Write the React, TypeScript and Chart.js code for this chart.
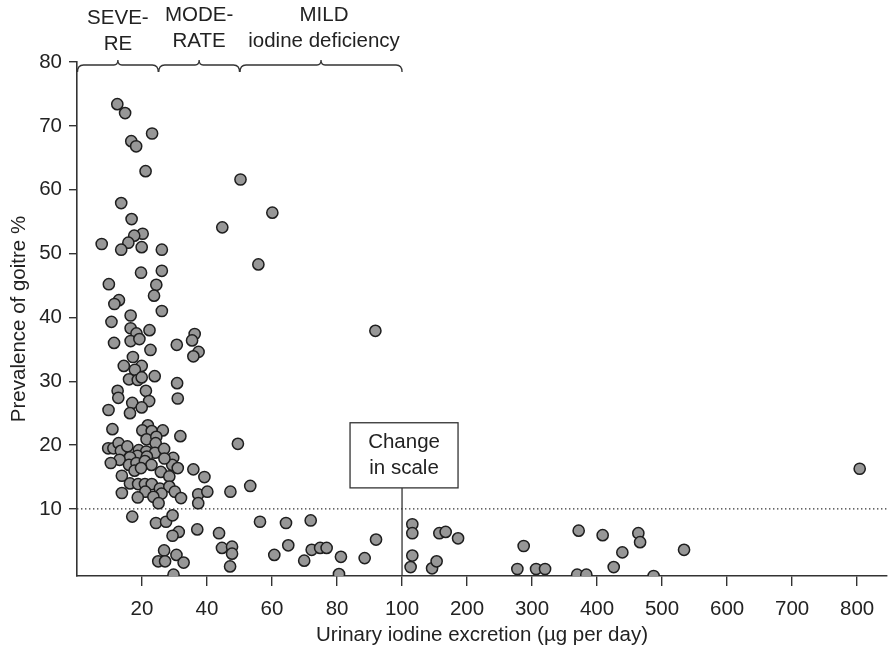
import React, { useEffect, useRef } from "react";
import { Chart, LinearScale, registerables } from "chart.js";

// ---- Data (x = urinary iodine excretion µg/day, y = goitre prevalence %) ----
const IODINE_X: number[] = [
  12.4, 14.8, 23.1, 16.7, 18.2, 21.1, 50.3, 13.6, 60.1, 44.7,
  16.8, 20.2, 17.6, 15.8, 7.6, 19.9, 13.6, 26.1, 55.8, 19.7,
  26.1, 9.8, 24.4, 23.7, 12.9, 11.5, 26.1, 16.5, 10.6, 16.5,
  18.3, 22.3, 16.5, 19.2, 11.4, 22.6, 36.2, 35.4, 30.7, 37.4,
  35.8, 17.2, 14.4, 19.9, 17.8, 23.9, 16.0, 18.7, 19.9, 30.8,
  21.2, 12.5, 31.0, 12.7, 22.2, 17.0, 19.9, 9.7, 16.3, 91.8,
  10.9, 21.8, 20.1, 23.0, 26.4, 49.5, 31.8, 21.4, 24.4, 24.2,
  9.6, 11.2, 12.8, 13.5, 15.5, 19.0, 21.3, 24.0, 26.8, 18.6,
  16.3, 13.1, 10.4, 21.5, 16.0, 18.3, 20.9, 29.6, 29.3, 26.9,
  22.9, 31.0, 17.7, 19.7, 25.8, 28.4, 35.8, 39.2, 13.8, 16.3,
  18.8, 20.9, 23.0, 25.5, 28.4, 21.0, 26.0, 30.1, 18.7, 23.5,
  32.0, 13.8, 25.1, 37.3, 37.3, 40.1, 47.2, 53.3,
  17.0, 24.3, 27.4, 29.4, 37.0, 31.3, 29.4, 43.7, 56.3, 64.3,
  71.9, 92.0, 26.8, 25.0, 27.1, 30.6, 32.8, 29.7, 44.6, 47.7,
  47.7, 47.1, 60.7, 65.0, 69.9, 72.2, 74.8, 76.8, 81.2, 80.6,
  88.5,
  115.8, 115.8, 115.8, 113.2, 146.2, 153.2, 157.4, 167.1, 186.2, 804,
  371.7, 408.6, 463.5, 466.2, 438.9, 425.6, 533.8, 287.1, 277.4, 306.2,
  320, 369.4, 383.5, 487,
];
const GOITRE_Y: number[] = [
  73.4, 72.0, 68.8, 67.6, 66.8, 62.9, 61.6, 57.9, 56.4, 54.1,
  55.4, 53.1, 52.8, 51.7, 51.5, 51.0, 50.6, 50.6, 48.3, 47.0,
  47.3, 45.2, 45.1, 43.4, 42.7, 42.1, 41.0, 40.3, 39.3, 38.3,
  37.5, 38.0, 36.3, 36.6, 36.0, 34.9, 37.4, 36.4, 35.7, 34.6,
  33.9, 33.8, 32.4, 32.4, 31.8, 30.8, 30.3, 30.2, 30.6, 29.7,
  28.5, 28.5, 27.3, 27.4, 26.9, 26.6, 25.9, 25.5, 25.0, 37.9,
  22.5, 23.1, 22.3, 22.2, 22.3, 20.2, 21.4, 20.9, 21.3, 20.3,
  19.5, 19.5, 20.3, 19.1, 19.8, 19.2, 19.0, 18.8, 19.4, 18.3,
  18.1, 17.7, 17.2, 18.2, 16.9, 17.2, 17.5, 18.0, 16.9, 17.9,
  16.9, 16.4, 16.0, 16.4, 15.8, 15.1, 16.2, 15.0, 15.2, 14.0,
  13.9, 13.9, 13.9, 13.2, 13.5, 12.7, 12.4, 12.7, 11.8, 11.9,
  11.7, 12.5, 10.9, 12.3, 10.9, 12.7, 12.7, 13.6,
  8.8, 7.8, 8.0, 9.0, 6.8, 6.4, 5.8, 6.2, 8.0, 7.8,
  8.2, 5.2, 3.5, 1.8, 1.8, 2.8, 1.6, -0.3, 3.9, 4.1,
  3.0, 1.0, 2.8, 4.3, 1.9, 3.6, 3.9, 3.9, 2.5, -0.2,
  2.3,
  7.6, 6.2, 2.7, 0.9, 0.7, 1.8, 6.2, 6.4, 5.4, 16.3,
  6.6, 5.9, 6.2, 4.8, 3.2, 0.9, 3.6, 4.2, 0.6, 0.6,
  0.6, -0.3, -0.3, -0.5,
];
const X_TICKS: number[] = [20, 40, 60, 80, 100, 200, 300, 400, 500, 600, 700, 800];
const Y_TICKS: number[] = [10, 20, 30, 40, 50, 60, 70, 80];
const THRESHOLD = 10;
const SCALE_BREAK = 100;
const COMPRESSION = 5;
const BANDS: { from: number; to: number; lines: string[] }[] = [
  { from: 0, to: 25, lines: ["SEVE-", "RE"] },
  { from: 25, to: 50, lines: ["MODE-", "RATE"] },
  { from: 50, to: 100, lines: ["MILD", "iodine deficiency"] },
];
const BOX_LINES: string[] = ["Change", "in scale"];

const FONT = "'Liberation Sans', Arial, Helvetica, sans-serif";
const FONT_SIZE = 20.5;
const INK = "#222222";

const fwd = (v: number) => (v <= SCALE_BREAK ? v : SCALE_BREAK + (v - SCALE_BREAK) / COMPRESSION);
const inv = (t: number) => (t <= SCALE_BREAK ? t : SCALE_BREAK + (t - SCALE_BREAK) * COMPRESSION);

class BrokenLinearScale extends LinearScale {
  static id = "brokenLinear";
  static defaults = LinearScale.defaults;
  getPixelForValue(value: number) {
    const t0 = fwd(this.min);
    const t1 = fwd(this.max);
    return this.getPixelForDecimal((fwd(value) - t0) / (t1 - t0));
  }
  getValueForPixel(pixel: number) {
    const t0 = fwd(this.min);
    const t1 = fwd(this.max);
    return inv(t0 + this.getDecimalForPixel(pixel) * (t1 - t0));
  }
}

Chart.register(...registerables, BrokenLinearScale as any);

const annotationPlugin = {
  id: "goitreAnnotations",
  beforeDatasetsDraw(chart: any) {
    const { ctx, chartArea, scales } = chart;
    const xs = scales.x;
    const ys = scales.y;
    ctx.save();
    // dotted threshold line
    const yT = ys.getPixelForValue(THRESHOLD);
    ctx.strokeStyle = "#333";
    ctx.lineWidth = 1.3;
    ctx.setLineDash([1.4, 2.6]);
    ctx.beginPath();
    ctx.moveTo(chartArea.left, yT);
    ctx.lineTo(chartArea.right, yT);
    ctx.stroke();
    ctx.setLineDash([]);

    // change in scale marker
    const xb = xs.getPixelForValue(SCALE_BREAK);
    const boxTop = ys.getPixelForValue(23.5);
    const boxBottom = ys.getPixelForValue(13.3);
    const boxW = 108;
    const boxL = xb - 52;
    ctx.lineWidth = 1.3;
    ctx.strokeStyle = "#333";
    ctx.beginPath();
    ctx.moveTo(xb, chartArea.bottom);
    ctx.lineTo(xb, boxBottom);
    ctx.stroke();
    ctx.fillStyle = "#fff";
    ctx.fillRect(boxL, boxTop, boxW, boxBottom - boxTop);
    ctx.strokeRect(boxL, boxTop, boxW, boxBottom - boxTop);
    ctx.fillStyle = INK;
    ctx.font = `${FONT_SIZE}px ${FONT}`;
    ctx.textAlign = "center";
    ctx.textBaseline = "alphabetic";
    const cx = boxL + boxW / 2;
    ctx.fillText(BOX_LINES[0], cx, boxBottom - 40);
    ctx.fillText(BOX_LINES[1], cx, boxBottom - 14);

    // braces and band labels
    const yLine = chartArea.top + 3;
    ctx.lineWidth = 1.3;
    BANDS.forEach((b, i) => {
      const x0 = xs.getPixelForValue(b.from) + 0.5;
      const x1 = xs.getPixelForValue(b.to);
      const xm = (x0 + x1) / 2;
      ctx.beginPath();
      ctx.moveTo(x0, yLine + 7);
      ctx.quadraticCurveTo(x0, yLine, x0 + 6, yLine);
      ctx.lineTo(xm - 4, yLine);
      ctx.quadraticCurveTo(xm, yLine, xm, yLine - 5);
      ctx.quadraticCurveTo(xm, yLine, xm + 4, yLine);
      ctx.lineTo(x1 - 6, yLine);
      ctx.quadraticCurveTo(x1, yLine, x1, yLine + 7);
      ctx.stroke();
      const shift = i === 0 ? 3 : 0;
      const tx = i === 2 ? xm + 3 : xm;
      ctx.fillText(b.lines[0], tx, 21 + shift);
      ctx.fillText(b.lines[1], tx, 47 + shift);
    });
    ctx.restore();
  },
};

export default function App() {
  const ref = useRef<HTMLCanvasElement | null>(null);
  useEffect(() => {
    if (!ref.current) return;
    const points = IODINE_X.map((x, i) => ({ x, y: GOITRE_Y[i] }));
    const tickFont = { family: FONT, size: FONT_SIZE };
    const chart = new Chart(ref.current, {
      type: "scatter",
      data: {
        datasets: [
          {
            data: points,
            pointRadius: 5.6,
            pointBackgroundColor: "#979797",
            pointBorderColor: "#1e1e1e",
            pointBorderWidth: 1.5,
            showLine: false,
          },
        ],
      },
      options: {
        animation: false,
        responsive: false,
        layout: { autoPadding: false, padding: { left: 0, top: 62, right: 1, bottom: 0 } },
        plugins: { legend: { display: false }, tooltip: { enabled: false } },
        scales: {
          x: {
            type: "brokenLinear" as any,
            min: 0,
            max: 846,
            afterBuildTicks: (axis: any) => {
              axis.ticks = X_TICKS.map((value) => ({ value }));
            },
            afterFit: (axis: any) => {
              axis.height = 78;
              axis.paddingLeft = 0;
              axis.paddingRight = 0;
            },
            ticks: {
              autoSkip: false,
              maxRotation: 0,
              color: INK,
              font: tickFont,
              padding: 11,
              callback: (v: any) => String(v),
            },
            grid: { drawOnChartArea: false, drawTicks: true, tickLength: 10, color: "#333", lineWidth: 1.4 },
            border: { display: true, color: "#333", width: 1.6 },
            title: {
              display: true,
              text: "Urinary iodine excretion (µg per day)",
              color: INK,
              font: { family: FONT, size: FONT_SIZE },
              padding: { top: 4, bottom: 6 },
            },
          },
          y: {
            type: "linear",
            min: -0.5,
            max: 80,
            afterBuildTicks: (axis: any) => {
              axis.ticks = Y_TICKS.map((value) => ({ value }));
            },
            afterFit: (axis: any) => {
              axis.width = 77;
            },
            ticks: { color: INK, font: tickFont, padding: 7, callback: (v: any) => String(v) },
            grid: { drawOnChartArea: false, drawTicks: true, tickLength: 8, color: "#333", lineWidth: 1.4 },
            border: { display: true, color: "#333", width: 1.6 },
            title: {
              display: true,
              text: "Prevalence of goitre %",
              color: INK,
              font: { family: FONT, size: FONT_SIZE },
              padding: { top: 7, bottom: 4 },
            },
          },
        },
      },
      plugins: [annotationPlugin],
    });
    return () => chart.destroy();
  }, []);
  return (
    <div style={{ position: "absolute", left: 0, top: 0, width: 888, height: 654, background: "#fff" }}>
      <canvas ref={ref} width={888} height={654} style={{ display: "block" }} />
    </div>
  );
}
